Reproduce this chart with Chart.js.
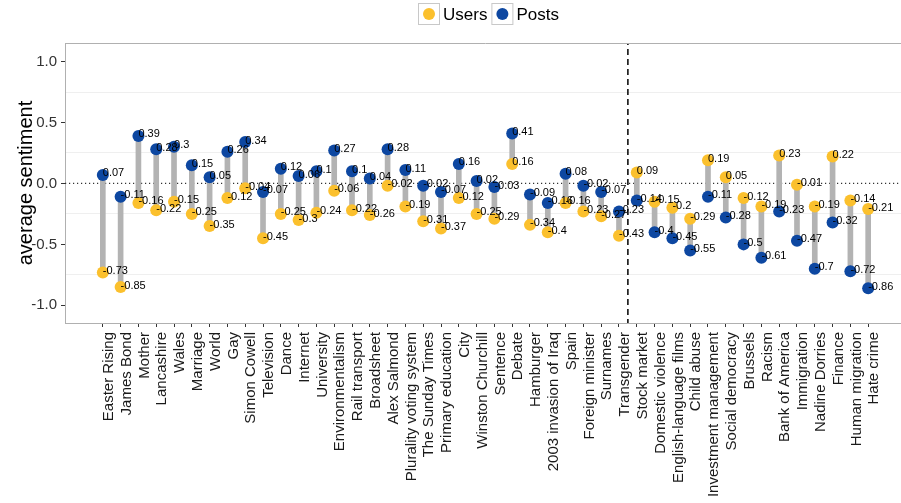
<!DOCTYPE html>
<html>
<head>
<meta charset="utf-8">
<script src="https://cdn.jsdelivr.net/npm/chart.js@4.4.1/dist/chart.umd.min.js"></script>
<style>
  html, body { margin: 0; padding: 0; background: #fff; }
  #wrap { width: 901px; height: 503px; overflow: hidden; }
</style>
</head>
<body>
<div id="wrap"><canvas id="chart" width="912" height="503"></canvas></div>
<script>
"use strict";

// Topics on the x axis, left to right
const topics = [
  "Easter Rising", "James Bond", "Mother", "Lancashire", "Wales", "Marriage", "World", "Gay",
  "Simon Cowell", "Television", "Dance", "Internet", "University", "Environmentalism",
  "Rail transport", "Broadsheet", "Alex Salmond", "Plurality voting system", "The Sunday Times",
  "Primary education", "City", "Winston Churchill", "Sentence", "Debate", "Hamburger",
  "2003 invasion of Iraq", "Spain", "Foreign minister", "Surnames", "Transgender",
  "Stock market", "Domestic violence", "English-language films", "Child abuse",
  "Investment management", "Social democracy", "Brussels", "Racism", "Bank of America",
  "Immigration", "Nadine Dorries", "Finance", "Human migration", "Hate crime",
];

// average sentiment of users per topic
const usersSentiment = [
  -0.73, -0.85, -0.16, -0.22, -0.15, -0.25, -0.35, -0.12,
  -0.04, -0.45, -0.25, -0.3, -0.24, -0.06,
  -0.22, -0.26, -0.02, -0.19, -0.31,
  -0.37, -0.12, -0.25, -0.29, 0.16, -0.34,
  -0.4, -0.16, -0.23, -0.27, -0.43,
  0.09, -0.15, -0.2, -0.29,
  0.19, 0.05, -0.12, -0.19, 0.23,
  -0.01, -0.19, 0.22, -0.14, -0.21,
];

// average sentiment of posts per topic
const postsSentiment = [
  0.07, -0.11, 0.39, 0.28, 0.3, 0.15, 0.05, 0.26,
  0.34, -0.07, 0.12, 0.06, 0.1, 0.27,
  0.1, 0.04, 0.28, 0.11, -0.02,
  -0.07, 0.16, 0.02, -0.03, 0.41, -0.09,
  -0.16, 0.08, -0.02, -0.07, -0.23,
  -0.14, -0.4, -0.45, -0.55,
  -0.11, -0.28, -0.5, -0.61, -0.23,
  -0.47, -0.7, -0.32, -0.72, -0.86,
];

// y axis: labelled ticks and the faint in-between grid lines
const yTickLabels = [-1.0, -0.5, 0.0, 0.5, 1.0];
const yMinorGrid = [-0.75, -0.25, 0.25, 0.75];

// the dashed divider sits after this topic
const dividerAfter = "Transgender";

const USERS_COLOR = "#FBC02D";
const POSTS_COLOR = "#0D47A1";
const FONT = "'Liberation Sans', Arial, Helvetica, sans-serif";

const xMin = -2.125;
const xMax = topics.length - 1 + 2.125;
const yMin = -1.145;
const yMax = 1.152;
const dividerX = topics.indexOf(dividerAfter) + 0.5;

const isMinor = (v) => yMinorGrid.some((m) => Math.abs(m - v) < 1e-6);

// panel top border (right one falls off the canvas like in the original)
const panelTop = {
  id: "panelTop",
  afterDraw(chart) {
    const {ctx, chartArea: a} = chart;
    ctx.save();
    ctx.strokeStyle = "#B0B0B0";
    ctx.lineWidth = 1;
    ctx.beginPath();
    ctx.moveTo(a.left, a.top + 0.5);
    ctx.lineTo(a.right, a.top + 0.5);
    ctx.stroke();
    ctx.restore();
  },
};

// value labels to the right of every point
const valueLabels = {
  id: "valueLabels",
  afterDatasetsDraw(chart) {
    const {ctx} = chart;
    ctx.save();
    ctx.font = "11px " + FONT;
    ctx.fillStyle = "#000";
    ctx.textAlign = "left";
    ctx.textBaseline = "middle";
    chart.data.datasets.forEach((ds, i) => {
      if (!ds.showValues) return;
      chart.getDatasetMeta(i).data.forEach((pt, j) => {
        ctx.fillText(String(ds.values[j]), pt.x, pt.y - 1.5);
      });
    });
    ctx.restore();
  },
};

// ggplot-like legend: dot in a grey square, label next to it
const keyLegend = {
  id: "keyLegend",
  afterDraw(chart) {
    const {ctx} = chart;
    const items = chart.data.datasets
        .filter((d) => d.legendRank)
        .sort((a, b) => a.legendRank - b.legendRank);
    ctx.save();
    ctx.font = "17px " + FONT;
    ctx.textBaseline = "middle";
    let x = 418;
    const y = 3;
    const box = 22;
    items.forEach((d) => {
      ctx.fillStyle = "#fff";
      ctx.fillRect(x, y, box, box);
      ctx.strokeStyle = "#C8C8C8";
      ctx.lineWidth = 1;
      ctx.strokeRect(x + 0.5, y + 0.5, box - 1, box - 1);
      ctx.fillStyle = d.pointBackgroundColor;
      ctx.beginPath();
      ctx.arc(x + box / 2, y + box / 2, 6, 0, Math.PI * 2);
      ctx.fill();
      ctx.fillStyle = "#000";
      ctx.fillText(d.label, x + box + 3, y + box / 2 + 1);
      x += box + 3 + ctx.measureText(d.label).width + 4;
    });
    ctx.restore();
  },
};

function buildChart() {
  const ctx = document.getElementById("chart").getContext("2d");

  new Chart(ctx, {
    type: "scatter",
    data: {
      datasets: [
        {
          label: "Posts",
          showValues: true,
          legendRank: 2,
          values: postsSentiment,
          data: postsSentiment.map((v, i) => ({x: i, y: v})),
          pointRadius: 6,
          pointHoverRadius: 6,
          pointBorderWidth: 0,
          pointBackgroundColor: POSTS_COLOR,
          backgroundColor: POSTS_COLOR,
          order: 1,
        },
        {
          label: "Users",
          showValues: true,
          legendRank: 1,
          values: usersSentiment,
          data: usersSentiment.map((v, i) => ({x: i, y: v})),
          pointRadius: 6,
          pointHoverRadius: 6,
          pointBorderWidth: 0,
          pointBackgroundColor: USERS_COLOR,
          backgroundColor: USERS_COLOR,
          order: 2,
        },
        {
          type: "bar",
          label: "gap",
          data: usersSentiment.map((v, i) => ({x: i, y: [v, postsSentiment[i]]})),
          backgroundColor: "#B3B3B3",
          borderWidth: 0,
          barThickness: 5,
          order: 3,
        },
        {
          type: "line",
          label: "zero",
          data: [{x: xMin, y: 0}, {x: xMax, y: 0}],
          borderColor: "#333",
          borderWidth: 1.2,
          borderDash: [1.2, 2.8],
          pointRadius: 0,
          order: 4,
        },
        {
          type: "line",
          label: "divider",
          data: [{x: dividerX, y: yMin - 1}, {x: dividerX, y: yMax + 1}],
          borderColor: "#000",
          borderWidth: 1.5,
          borderDash: [6, 4],
          pointRadius: 0,
          order: 5,
        },
      ],
    },
    options: {
      responsive: false,
      animation: false,
      devicePixelRatio: 1,
      layout: {padding: {top: 43, right: 2, left: 0, bottom: 0}},
      plugins: {
        legend: {display: false},
        tooltip: {enabled: false},
      },
      scales: {
        x: {
          type: "linear",
          min: xMin,
          max: xMax,
          offset: false,
          afterBuildTicks: (scale) => {
            scale.ticks = topics.map((_, i) => ({value: i}));
          },
          afterFit: (scale) => {
            scale.height = 180;
          },
          grid: {offset: false, drawOnChartArea: false, drawTicks: true, tickLength: 4, tickColor: "#333"},
          border: {display: true, color: "#B0B0B0", width: 1},
          ticks: {
            autoSkip: false,
            minRotation: 90,
            maxRotation: 90,
            padding: 5,
            labelOffset: 6,
            color: "#1A1A1A",
            font: {family: FONT, size: 15},
            callback: (v) => topics[v],
          },
        },
        y: {
          min: yMin,
          max: yMax,
          afterBuildTicks: (scale) => {
            scale.ticks = yTickLabels.concat(yMinorGrid)
                .sort((a, b) => a - b)
                .map((v) => ({value: v}));
          },
          afterFit: (scale) => {
            scale.width = 65;
          },
          grid: {
            color: (c) => (c.tick && isMinor(c.tick.value) ? "#EFEFEF" : "rgba(0,0,0,0)"),
            tickColor: (c) => (c.tick && isMinor(c.tick.value) ? "rgba(0,0,0,0)" : "#333"),
            tickLength: 4,
            lineWidth: 1,
          },
          border: {display: true, color: "#B0B0B0", width: 1},
          ticks: {
            padding: 4,
            color: "#333",
            font: {family: FONT, size: 15},
            callback: (v) => (isMinor(v) ? "" : v.toFixed(1)),
          },
          title: {
            display: true,
            text: "average sentiment",
            color: "#000",
            font: {family: FONT, size: 20},
            padding: {top: 14, bottom: 0},
          },
        },
      },
    },
    plugins: [panelTop, valueLabels, keyLegend],
  });
}

buildChart();
</script>
</body>
</html>
